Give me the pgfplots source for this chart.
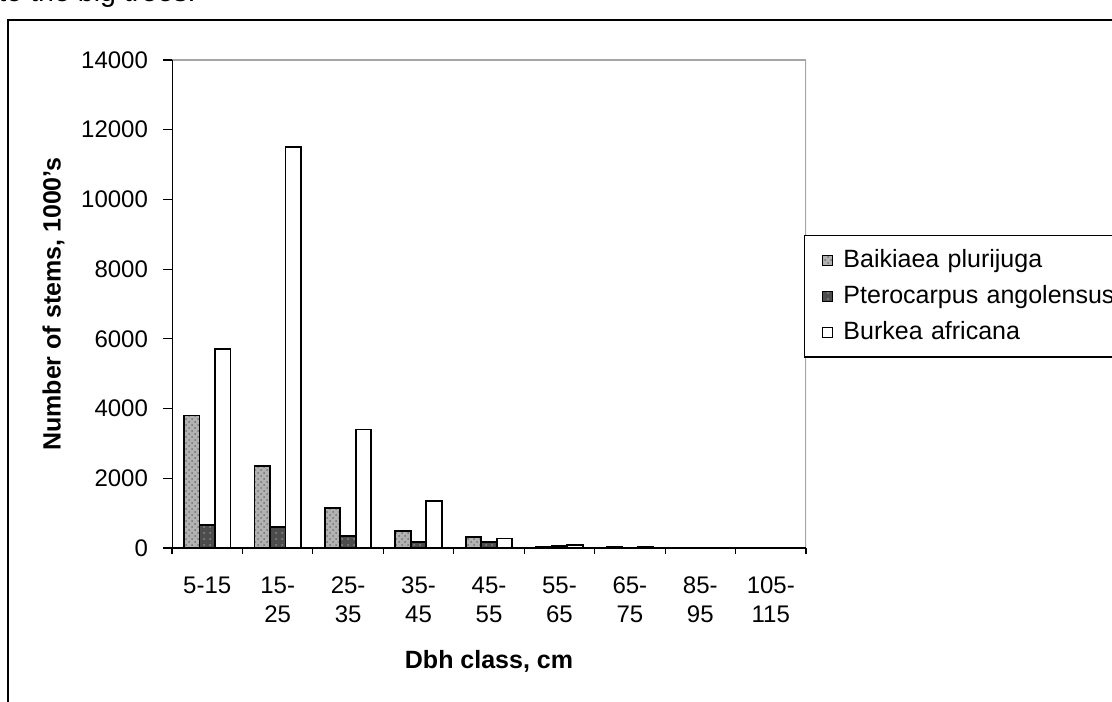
\documentclass[border=0pt]{standalone}
\usepackage{fontspec}
\setmainfont{Liberation Sans}
\usepackage{pgfplots}
\pgfplotsset{compat=1.18}
\usetikzlibrary{patterns}

\pgfplotstableread{
x baik pter burk
0 3800 660 5700
1 2350 600 11500
2 1150 350 3400
3 480 180 1350
4 320 180 270
5 30 60 90
6 20 10 25
7 10 5 10
8 5 5 10
}\datatable

\begin{document}
\begin{tikzpicture}
\clip (0,0) rectangle (556pt,350.5pt);
% outer chart frame
\draw[line width=0.8pt] (4pt,-5pt) rectangle (570pt,340.5pt);
% cropped text of the page above
\node[anchor=base west, inner sep=0pt, font=\fontsize{14.3}{17}\selectfont] at (-1pt,349.5pt) {to the big trees.};
\begin{axis}[
  at={(86pt,76.5pt)}, anchor=south west,
  scale only axis, width=317pt, height=244pt,
  xmin=-0.5, xmax=8.5, ymin=0, ymax=14000,
  axis line style={draw=none},
  ytick={0,2000,...,14000},
  ytick pos=left, xtick pos=bottom,
  tick align=outside,
  major tick length=4.5pt,
  minor tick length=3pt,
  xtick={0,...,8},
  xticklabels={5-15,{15-\\25},{25-\\35},{35-\\45},{45-\\55},{55-\\65},{65-\\75},{85-\\95},{105-\\115}},
  major x tick style={draw=none},
  minor xtick={-0.5,0.5,...,8.5},
  every tick/.style={black, line width=0.6pt},
  scaled y ticks=false,
  /pgf/number format/assume math mode=true,
  /pgf/number format/set thousands separator={},
  tick label style={font=\fontsize{12}{14.5}\selectfont},
  xticklabel style={align=center, anchor=north, yshift=-6.5pt},
  yticklabel style={xshift=-4pt},
  xlabel={\bfseries Dbh class, cm},
  ylabel={\bfseries Number of stems, 1000's},
  label style={font=\fontsize{12.5}{15}\selectfont},
  xlabel style={yshift=-7pt},
  ylabel style={yshift=1.5pt},
  ybar=0pt, bar width=0.22,
  legend style={at={(0.997,0.6414)}, anchor=north west, draw=black, line width=0.6pt,
    font=\fontsize{12.5}{15}\selectfont, row sep=3.5pt, inner ysep=5pt, inner xsep=4pt,
    nodes={text width=150pt, align=left}},
  legend cell align=left,
  legend image code/.code={\path (0pt,0pt) (12.5pt,0pt); \draw[#1, line width=0.5pt] (4.5pt,-2.6pt) rectangle (9.5pt,2.4pt);},
]
\addplot[draw=black, line width=0.9pt, fill=gray!60, postaction={pattern=crosshatch dots, pattern color=black!55}] table[x=x,y=baik] {\datatable};
\addplot[draw=black, line width=0.9pt, fill=black!70, postaction={pattern=dots, pattern color=white!55!black}] table[x=x,y=pter] {\datatable};
\addplot[draw=black, line width=0.9pt, fill=white] table[x=x,y=burk] {\datatable};
\legend{Baikiaea plurijuga, Pterocarpus angolensus, Burkea africana}
\draw[gray!70, line width=0.6pt] (axis description cs:0,1) -- (axis description cs:1,1) -- (axis description cs:1,0);
\draw[black, line width=0.8pt] (axis description cs:0,1) -- (axis description cs:0,0) -- (axis description cs:1,0);
\end{axis}
\end{tikzpicture}
\end{document}
